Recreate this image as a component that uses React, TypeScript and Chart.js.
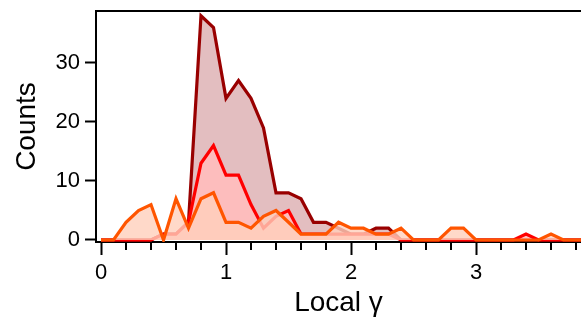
import React, { useEffect, useRef } from "react";
import { Chart, registerables } from "chart.js";

Chart.register(...registerables);

// Histogram bin positions of local γ
const gammaBins = [
  0.0, 0.1, 0.2, 0.3, 0.4, 0.5, 0.6, 0.7, 0.8, 0.9,
  1.0, 1.1, 1.2, 1.3, 1.4, 1.5, 1.6, 1.7, 1.8, 1.9,
  2.0, 2.1, 2.2, 2.3, 2.4, 2.5, 2.6, 2.7, 2.8, 2.9,
  3.0, 3.1, 3.2, 3.3, 3.4, 3.5, 3.6, 3.7, 3.8, 3.9,
];

// Counts per bin for the three populations
const darkRedCounts = [
  0, 0, 0, 0, 0, 1, 1, 3, 38, 36,
  24, 27, 24, 19, 8, 8, 7, 3, 3, 2,
  1, 1, 2, 2, 0, 0, 0, 0, 0, 0,
  0, 0, 0, 0, 0, 0, 0, 0, 0, 0,
];
const redCounts = [
  0, 0, 0, 0, 0, 1, 1, 3, 13, 16,
  11, 11, 6, 2, 4, 5, 1, 1, 1, 1,
  1, 1, 1, 1, 0, 0, 0, 0, 0, 0,
  0, 0, 0, 0, 1, 0, 0, 0, 0, 0,
];
const orangeCounts = [
  0, 0, 3, 5, 6, 0, 7, 2, 7, 8,
  3, 3, 2, 4, 5, 3, 1, 1, 1, 3,
  2, 2, 1, 1, 2, 0, 0, 0, 2, 2,
  0, 0, 0, 0, 0, 0, 1, 0, 0, 0,
];

const xTickLabels = ["0", "1", "2", "3"];
const yTickValues = [0, 10, 20, 30];

const FONT = "'Liberation Sans', Arial, Helvetica, sans-serif";

const isMajor = (v: number) => Math.abs(v - Math.round(v)) < 1e-6;

const toPoints = (vals: number[]) => gammaBins.map((x, i) => ({ x, y: vals[i] }));

// Top frame line and the short minor ticks on the x axis
const framePlugin = {
  id: "frame",
  afterDraw(chart: any) {
    const { ctx, chartArea, scales } = chart;
    ctx.save();
    ctx.strokeStyle = "#000";
    ctx.lineWidth = 2;
    ctx.beginPath();
    ctx.moveTo(chartArea.left - 1, chartArea.top);
    ctx.lineTo(chartArea.right, chartArea.top);
    ctx.stroke();
    const xs = scales.x;
    ctx.beginPath();
    for (const t of xs.ticks) {
      if (isMajor(t.value)) continue;
      const px = Math.round(xs.getPixelForValue(t.value));
      ctx.moveTo(px, xs.top);
      ctx.lineTo(px, xs.top + 8);
    }
    ctx.stroke();
    ctx.restore();
  },
};

export default function App() {
  const canvasRef = useRef<HTMLCanvasElement | null>(null);

  useEffect(() => {
    document.body.style.margin = "0";
    const canvas = canvasRef.current;
    if (!canvas) return;
    const chart = new Chart(canvas, {
      type: "line",
      data: {
        datasets: [
          {
            data: toPoints(orangeCounts),
            borderColor: "#ff5500",
            backgroundColor: "rgba(255,208,188,0.8)",
            fill: "origin",
            borderWidth: 3.2,
            pointRadius: 0,
            tension: 0,
          },
          {
            data: toPoints(redCounts),
            borderColor: "#ff0000",
            backgroundColor: "rgba(255,188,188,0.9)",
            fill: "origin",
            borderWidth: 3.2,
            pointRadius: 0,
            tension: 0,
          },
          {
            data: toPoints(darkRedCounts),
            borderColor: "#990000",
            backgroundColor: "rgb(227,190,192)",
            fill: "origin",
            borderWidth: 3.2,
            pointRadius: 0,
            tension: 0,
          },
        ],
      },
      options: {
        animation: false,
        responsive: true,
        maintainAspectRatio: false,
        layout: { padding: { top: 11, left: 0, right: 0, bottom: 0 } },
        plugins: {
          legend: { display: false },
          tooltip: { enabled: false },
        },
        scales: {
          x: {
            type: "linear",
            min: -0.04,
            max: 3.84,
            afterFit(scale: any) {
              scale.height = 78;
              scale.paddingLeft = 0;
              scale.paddingRight = 0;
            },
            border: { display: true, color: "#000", width: 2 },
            grid: {
              drawOnChartArea: false,
              drawTicks: true,
              tickLength: 13,
              tickWidth: 2,
              tickColor: (ctx: any) =>
                ctx.tick && isMajor(ctx.tick.value) ? "#000" : "rgba(0,0,0,0)",
            },
            ticks: {
              stepSize: 0.2,
              includeBounds: false,
              autoSkip: false,
              maxRotation: 0,
              padding: 5,
              color: "#000",
              font: { family: FONT, size: 22 },
              callback: (v: any) => {
                const n = Number(v);
                if (!isMajor(n)) return "";
                const idx = Math.round(n);
                return xTickLabels[idx] ?? "";
              },
            },
            title: {
              display: true,
              text: "Local γ",
              color: "#000",
              font: { family: FONT, size: 28 },
              padding: { top: 0, bottom: 0 },
            },
          },
          y: {
            min: -0.34,
            max: 38.8,
            afterFit(scale: any) {
              scale.width = 96;
              scale.paddingTop = 0;
              scale.paddingBottom = 0;
            },
            afterBuildTicks(scale: any) {
              scale.ticks = yTickValues.map((value) => ({ value }));
            },
            border: { display: true, color: "#000", width: 2 },
            grid: {
              drawOnChartArea: false,
              drawTicks: true,
              tickLength: 11,
              tickWidth: 2,
              tickColor: "#000",
            },
            ticks: {
              padding: 5,
              color: "#000",
              font: { family: FONT, size: 22 },
            },
            title: {
              display: true,
              text: "Counts",
              color: "#000",
              font: { family: FONT, size: 28 },
              padding: { top: 10, bottom: 0 },
            },
          },
        },
      },
      plugins: [framePlugin],
    });
    return () => chart.destroy();
  }, []);

  return (
    <div style={{ position: "relative", width: 581, height: 320 }}>
      <canvas ref={canvasRef} />
    </div>
  );
}
